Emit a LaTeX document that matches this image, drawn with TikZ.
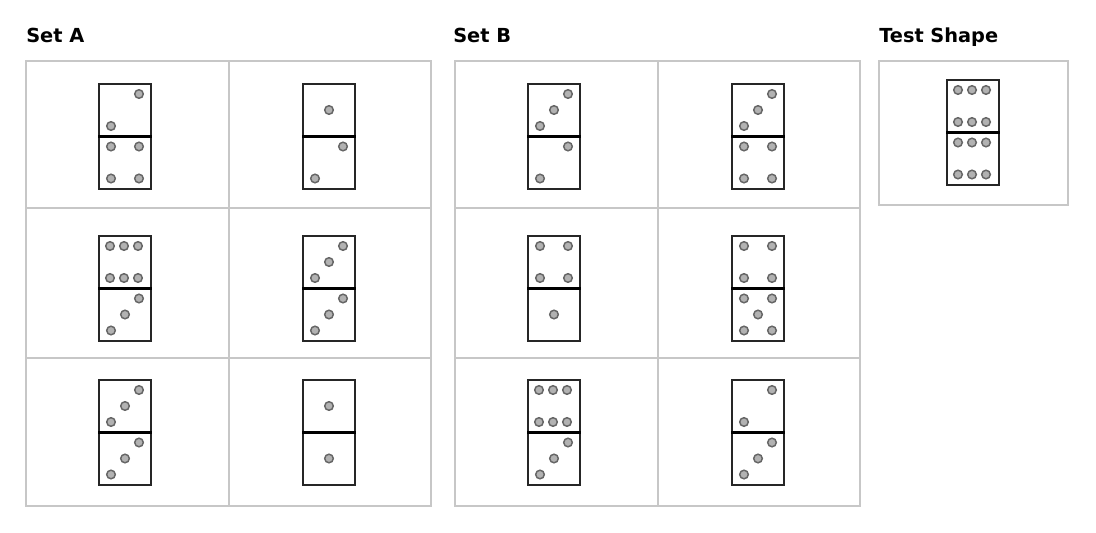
\documentclass[tikz,border=0pt]{standalone}
\usepackage{fontspec}
\setsansfont{DejaVu Sans}
\tikzset{
  cellbox/.style={draw=black!22, line width=1.2pt},
  dombox/.style={draw=black!85, line width=0.9pt},
  midline/.style={draw=black, line width=2pt},
  pip/.style={draw=black!60, fill=black!30, line width=1.1pt},
  title/.style={anchor=base west, inner sep=0pt, font=\sffamily\bfseries\fontsize{14.5}{16}\selectfont}
}
\newcommand\pipset[3]{% #1 x0, #2 y0, #3 count
  \ifcase#3\or
    \def\pl{26/26}\or
    \def\pl{40/10,12/42}\or
    \def\pl{40/10,26/26,12/42}\or
    \def\pl{12/10,40/10,12/42,40/42}\or
    \def\pl{12/10,40/10,12/42,40/42,26/26}\or
    \def\pl{11/10,25/10,39/10,11/42,25/42,39/42}\fi
  \foreach \px/\py in \pl {\draw[pip] (#1+\px,#2+\py) circle (4.3);}
}
\newcommand\dom[5]{% name, cx, cy, top, bottom
  \node[dombox, minimum width=39pt, minimum height=78.75pt, inner sep=0pt] (#1) at (#2,#3) {};
  \draw[midline] (#1.west) -- (#1.east);
  \pipset{#2-26}{#3-52.5}{#4}
  \pipset{#2-26}{#3}{#5}
}
\begin{document}
\begin{tikzpicture}[x=0.75pt,y=-0.75pt]
\useasboundingbox (0,0) rectangle (1096,532);
\node[title] (ta) at (26,42) {Set A};
\node[title] (tb) at (453,42) {Set B};
\node[title] (tt) at (879,42) {Test Shape};
% grids
\foreach \x in {26,455}{
  \draw[cellbox] (\x,61) rectangle (\x+405,506);
  \draw[cellbox] (\x+203,61) -- (\x+203,506);
  \draw[cellbox] (\x,208) -- (\x+405,208);
  \draw[cellbox] (\x,358) -- (\x+405,358);
}
\draw[cellbox] (879,61) rectangle (1068,205);
% Set A
\dom{a11}{125}{136.5}{2}{4}
\dom{a12}{329}{136.5}{1}{2}
\dom{a21}{125}{288.5}{6}{3}
\dom{a22}{329}{288.5}{3}{3}
\dom{a31}{125}{432.5}{3}{3}
\dom{a32}{329}{432.5}{1}{1}
% Set B
\dom{b11}{554}{136.5}{3}{2}
\dom{b12}{758}{136.5}{3}{4}
\dom{b21}{554}{288.5}{4}{1}
\dom{b22}{758}{288.5}{4}{5}
\dom{b31}{554}{432.5}{6}{3}
\dom{b32}{758}{432.5}{2}{3}
% Test
\dom{t}{973}{132.5}{6}{6}
\end{tikzpicture}
\end{document}
